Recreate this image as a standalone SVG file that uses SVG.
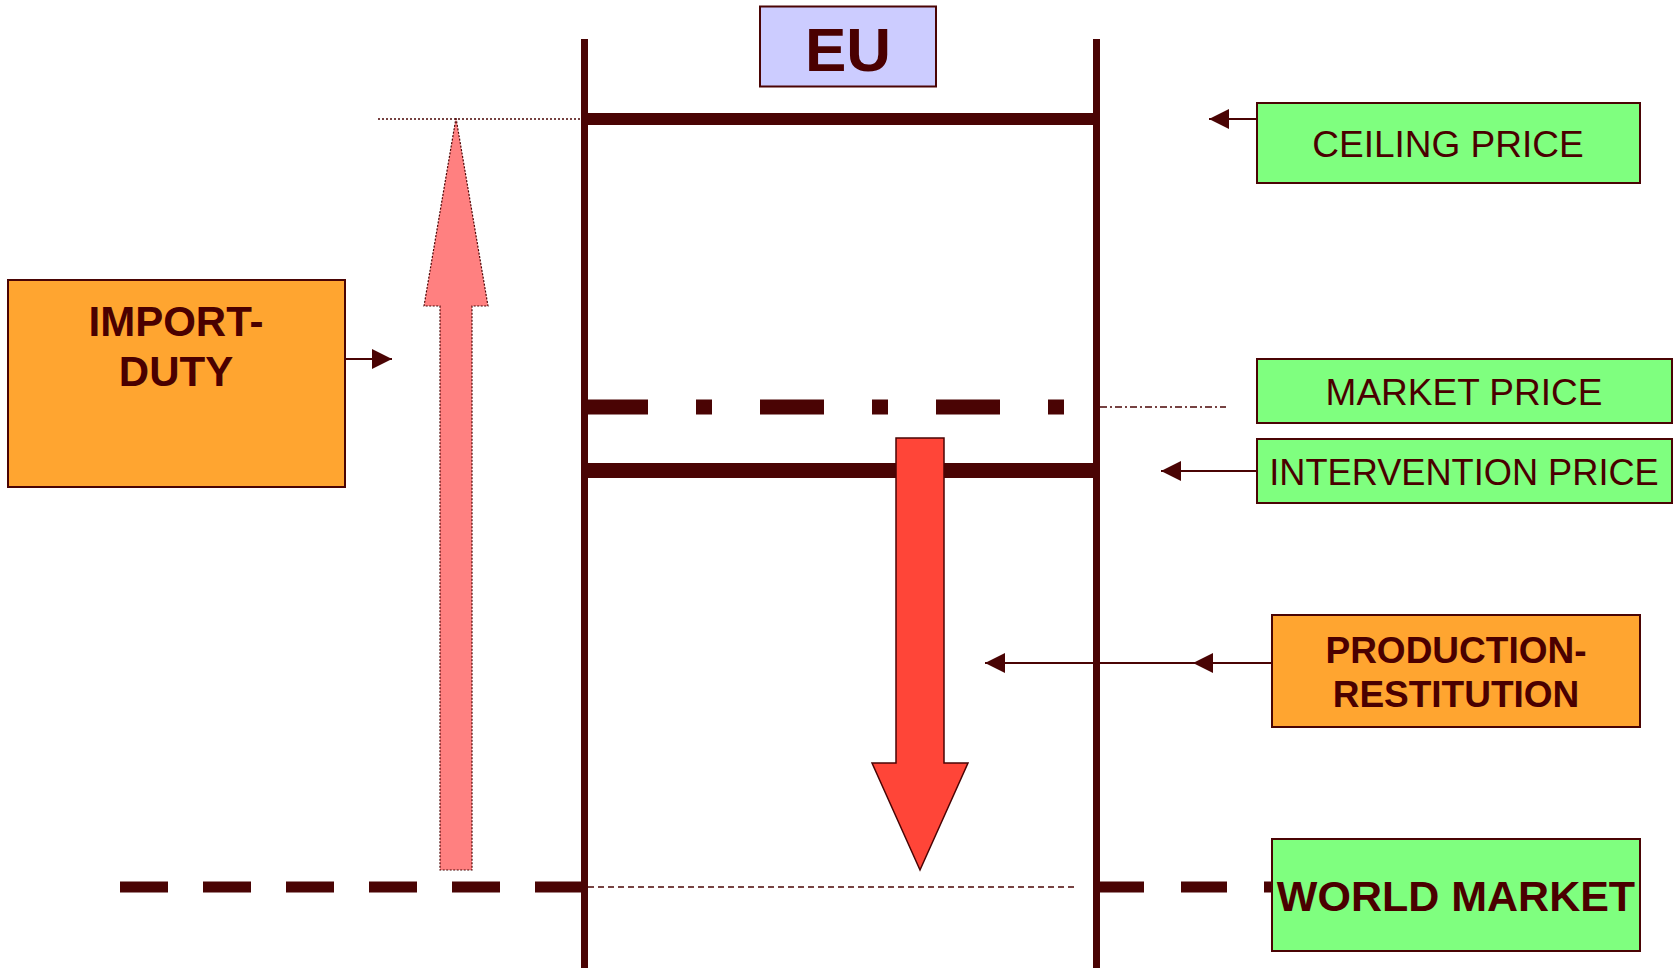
<svg xmlns="http://www.w3.org/2000/svg" width="1674" height="968" viewBox="0 0 1674 968">
<defs>
<style>
.box{stroke:#4A0404;stroke-width:2}
.green{fill:#7FFF7F}
.orange{fill:#FFA530}
.lbl{font-family:"Liberation Sans",Arial,sans-serif;fill:#4A0000;text-anchor:middle}
.b{font-weight:bold}
.thick{stroke:#4A0404;fill:none}
.thin{stroke:#4A0404;stroke-width:2;fill:none}
</style>
<marker id="ah" viewBox="0 0 20 20" refX="20" refY="10" markerWidth="20" markerHeight="20" markerUnits="userSpaceOnUse" orient="auto">
<path d="M0,0 L20,10 L0,20 z" fill="#4A0404"/>
</marker>
</defs>
<rect width="1674" height="968" fill="#FFFFFF"/>

<g id="structure">
<line class="thick" x1="584.5" y1="39" x2="584.5" y2="968" stroke-width="7"/>
<line class="thick" x1="1096.5" y1="39" x2="1096.5" y2="968" stroke-width="7"/>
<line class="thick" x1="584" y1="119" x2="1096" y2="119" stroke-width="12"/>
<line class="thick" x1="584" y1="407" x2="1070" y2="407" stroke-width="15" stroke-dasharray="64 48 16 48"/>
<line class="thick" x1="584" y1="470.5" x2="1096" y2="470.5" stroke-width="15"/>
<line class="thick" x1="120" y1="887" x2="584" y2="887" stroke-width="11" stroke-dasharray="48 35"/>
<line class="thick" x1="1098" y1="887" x2="1272" y2="887" stroke-width="11" stroke-dasharray="46 37"/>
<line x1="588" y1="887" x2="1076" y2="887" stroke="#4A0404" stroke-width="1.5" stroke-dasharray="6 4"/>
<line x1="378" y1="119" x2="584" y2="119" stroke="#4A0404" stroke-width="1.5" stroke-dasharray="2 2"/>
<line x1="1100" y1="407" x2="1226" y2="407" stroke="#4A0404" stroke-width="1.5" stroke-dasharray="7 3 2 3"/>
</g>

<g id="arrow-import">
<polygon points="456,118 488,306 472,306 472,870 440,870 440,306 424,306" fill="#FF8080" stroke="#4A0404" stroke-width="1.2" stroke-dasharray="2 1.5"/>
</g>
<g id="arrow-restitution">
<polygon points="896,438 944,438 944,763 968,763 920,870 872,763 896,763" fill="#FF4538" stroke="#4A0404" stroke-width="1.5"/>
</g>

<g id="connectors">
<line class="thin" x1="345" y1="359" x2="392" y2="359" marker-end="url(#ah)"/>
<line class="thin" x1="1257" y1="119" x2="1209" y2="119" marker-end="url(#ah)"/>
<line class="thin" x1="1257" y1="471" x2="1161" y2="471" marker-end="url(#ah)"/>
<line class="thin" x1="1272" y1="663" x2="1193" y2="663" marker-end="url(#ah)"/>
<line class="thin" x1="1200" y1="663" x2="985" y2="663" marker-end="url(#ah)"/>
</g>

<g id="eu">
<rect class="box" x="760" y="6.5" width="176" height="80" fill="#CCCCFF"/>
<text class="lbl b" x="848" y="71" font-size="62">EU</text>
</g>

<g id="import-duty">
<rect class="box orange" x="8" y="280" width="337" height="207"/>
<text class="lbl b" x="176" y="336" font-size="42">IMPORT-</text>
<text class="lbl b" x="176" y="386" font-size="42">DUTY</text>
</g>

<g id="ceiling-price">
<rect class="box green" x="1257" y="103" width="383" height="80"/>
<text class="lbl" x="1448" y="157" font-size="37">CEILING PRICE</text>
</g>

<g id="market-price">
<rect class="box green" x="1257" y="359" width="415" height="64"/>
<text class="lbl" x="1464" y="405" font-size="37">MARKET PRICE</text>
</g>

<g id="intervention-price">
<rect class="box green" x="1257" y="439" width="415" height="64"/>
<text class="lbl" x="1464" y="485" font-size="36.2">INTERVENTION PRICE</text>
</g>

<g id="production-restitution">
<rect class="box orange" x="1272" y="615" width="368" height="112"/>
<text class="lbl b" x="1456" y="663" font-size="37">PRODUCTION-</text>
<text class="lbl b" x="1456" y="707" font-size="37">RESTITUTION</text>
</g>

<g id="world-market">
<rect class="box green" x="1272" y="839" width="368" height="112"/>
<text class="lbl b" x="1456" y="911" font-size="43">WORLD MARKET</text>
</g>
</svg>
